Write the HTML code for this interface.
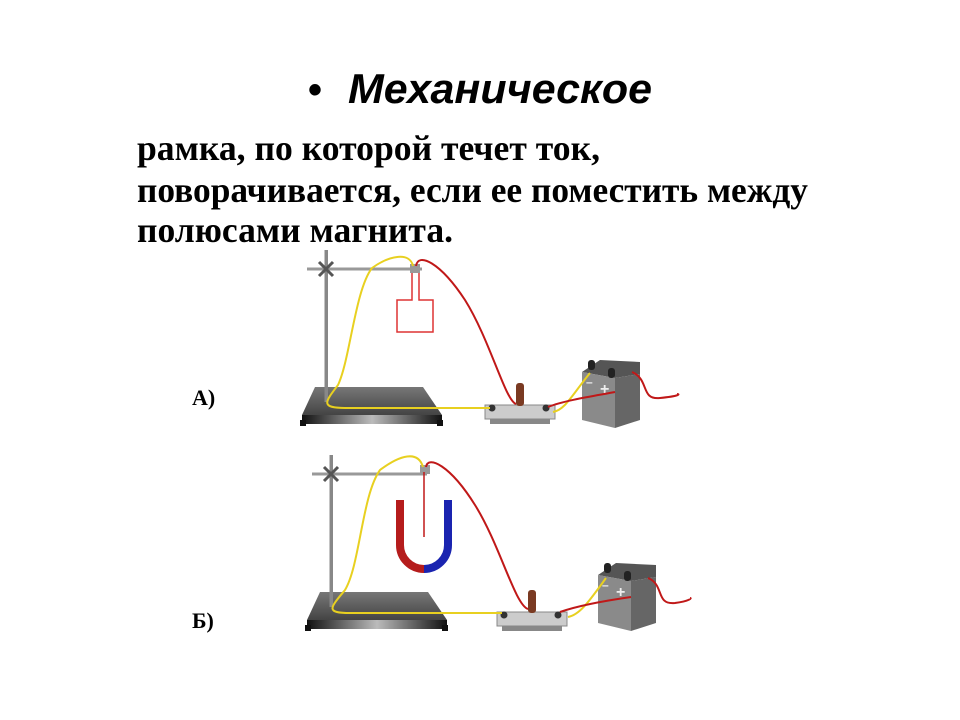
<!DOCTYPE html>
<html><head><meta charset="utf-8"><style>html,body{margin:0;padding:0;background:#fff}svg{display:block}</style></head>
<body>
<svg width="960" height="720" viewBox="0 0 960 720" xmlns="http://www.w3.org/2000/svg">
<defs>
<linearGradient id="bf" x1="0" x2="1"><stop offset="0" stop-color="#111"/><stop offset="0.5" stop-color="#bbb"/><stop offset="1" stop-color="#111"/></linearGradient>
<linearGradient id="bt" x1="0" y1="0" x2="0" y2="1"><stop offset="0" stop-color="#777"/><stop offset="1" stop-color="#444"/></linearGradient>
<g id="stand">
<polygon points="315,387 423,387 442,415 302,415" fill="url(#bt)"/>
<rect x="302" y="415" width="140" height="9" fill="url(#bf)"/>
<rect x="300" y="420" width="6" height="6" fill="#111"/><rect x="437" y="420" width="6" height="6" fill="#111"/>
<rect x="324.5" y="250" width="3.5" height="152" fill="#888"/>
<rect x="307" y="267.5" width="115" height="3" fill="#999"/>
<path d="M319,262 L333,276 M333,262 L319,276" stroke="#555" stroke-width="3"/>
</g>
<g id="switch">
<rect x="485" y="405" width="70" height="14" fill="#ccc" stroke="#888"/>
<rect x="490" y="419" width="60" height="5" fill="#888"/>
<rect x="516" y="383" width="8" height="23" rx="3" fill="#7a3a22"/>
<circle cx="492" cy="408" r="3.5" fill="#333"/><circle cx="546" cy="408" r="3.5" fill="#333"/>
</g>
<g id="bat">
<polygon points="582,372 600,360 640,362 640,374 615,378" fill="#555"/>
<polygon points="582,372 615,378 615,428 582,420" fill="#8a8a8a"/>
<polygon points="615,378 640,374 640,420 615,428" fill="#666"/>
<rect x="588" y="360" width="7" height="10" rx="3" fill="#222"/><rect x="608" y="368" width="7" height="10" rx="3" fill="#222"/>
<text x="586" y="386" fill="#eee" font-family="Liberation Sans" font-size="12" font-weight="bold">–</text>
<text x="600" y="394" fill="#eee" font-family="Liberation Sans" font-size="16" font-weight="bold">+</text>
</g>
</defs>

<text x="308" y="103" font-family="Liberation Sans, sans-serif" font-size="40" font-weight="bold">•</text>
<text x="348" y="103" font-family="Liberation Sans, sans-serif" font-size="42" font-weight="bold" font-style="italic" textLength="304" lengthAdjust="spacingAndGlyphs">Механическое</text>
<g font-family="Liberation Serif, serif" font-size="36" font-weight="bold">
<text x="137" y="160" textLength="463" lengthAdjust="spacingAndGlyphs">рамка, по которой течет ток,</text>
<text x="137" y="202" textLength="671" lengthAdjust="spacingAndGlyphs">поворачивается, если ее поместить между</text>
<text x="137" y="242" textLength="316" lengthAdjust="spacingAndGlyphs">полюсами магнита.</text>
</g>
<g font-family="Liberation Serif, serif" font-size="22" font-weight="bold">
<text x="192" y="405">А)</text>
<text x="192" y="628">Б)</text>
</g>

<!-- A -->
<use href="#stand"/>
<path d="M412,270 V300 H397 V332 H433 V300 H419 V270" fill="none" stroke="#d33" stroke-width="1.5"/>
<use href="#switch"/>
<use href="#bat"/>
<rect x="410" y="264" width="10" height="9" fill="#999"/>
<path d="M413,266 C410,252 390,255 372,268 C355,290 350,360 338,385 C325,402 320,408 345,408 L490,408" fill="none" stroke="#e8d020" stroke-width="2"/>
<path d="M553,412 C565,410 572,395 590,373" fill="none" stroke="#e8d020" stroke-width="2"/>
<path d="M416,266 C418,252 440,262 465,300 C490,340 505,400 516,404" fill="none" stroke="#c01818" stroke-width="2"/>
<path d="M548,407 C565,400 600,395 615,392 M632,372 C650,380 640,400 660,398 C680,396 680,394 677,394" fill="none" stroke="#c01818" stroke-width="2"/>

<!-- B -->
<use href="#stand" transform="translate(5,205)"/>
<path d="M400,500 V545 A24,24 0 0 0 424,569" fill="none" stroke="#b51c1c" stroke-width="8"/>
<path d="M448,500 V545 A24,24 0 0 1 424,569" fill="none" stroke="#1a24b0" stroke-width="8"/>
<use href="#switch" transform="translate(12,207)"/>
<use href="#bat" transform="translate(16,203)"/>
<rect x="420" y="465" width="10" height="9" fill="#999"/>
<line x1="424" y1="472" x2="424" y2="537" stroke="#c01818" stroke-width="1.5"/>
<path d="M423,467 C418,450 400,455 380,470 C362,495 360,565 345,590 C330,608 325,613 350,613 L502,613" fill="none" stroke="#e8d020" stroke-width="2"/>
<path d="M568,617 C580,615 590,600 606,578" fill="none" stroke="#e8d020" stroke-width="2"/>
<path d="M426,467 C428,455 450,465 475,505 C500,545 515,605 528,609" fill="none" stroke="#c01818" stroke-width="2"/>
<path d="M560,612 C580,605 610,600 631,597 M648,578 C665,585 655,605 675,603 C690,601 692,598 690,598" fill="none" stroke="#c01818" stroke-width="2"/>
</svg>
</body></html>
